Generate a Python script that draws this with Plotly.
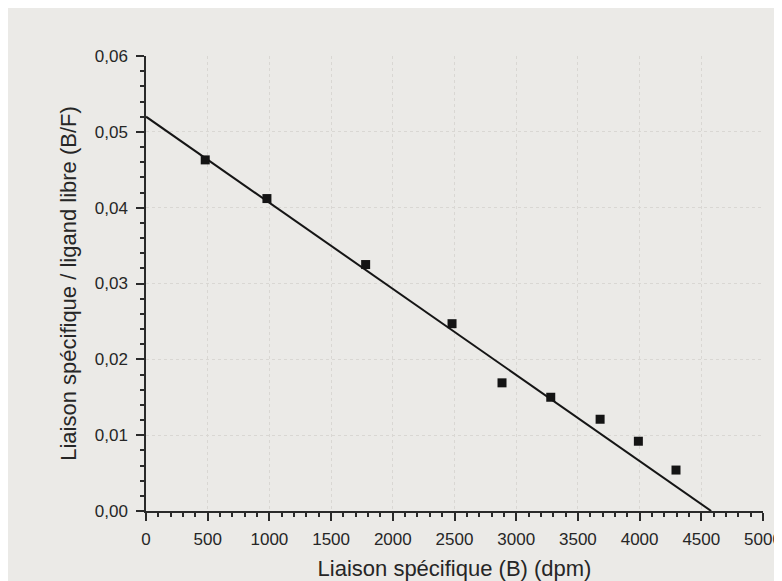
import plotly.graph_objects as go

# Data (Scatchard plot)
bound_dpm = [480, 980, 1780, 2480, 2885, 3280, 3680, 3990, 4295]
bound_over_free = [0.0463, 0.0412, 0.0325, 0.0247, 0.0169, 0.0150, 0.0121, 0.0092, 0.0054]

fit_x = [0, 4580]
fit_y = [0.0520, 0.0]

x_tick_vals = [0, 500, 1000, 1500, 2000, 2500, 3000, 3500, 4000, 4500, 5000]
y_tick_vals = [0.00, 0.01, 0.02, 0.03, 0.04, 0.05, 0.06]

FONT = "Liberation Sans, Arial, sans-serif"

fig = go.Figure()
fig.add_trace(go.Scatter(
    x=fit_x, y=fit_y, mode="lines",
    line=dict(color="#151515", width=2), showlegend=False, cliponaxis=False,
))
fig.add_trace(go.Scatter(
    x=bound_dpm, y=bound_over_free, mode="markers",
    marker=dict(symbol="square", size=9, color="#141414"), showlegend=False,
))

axis_common = dict(
    showline=True, linecolor="#2a2a2a", linewidth=1.5,
    ticks="outside", tickcolor="#2a2a2a", ticklen=8, tickwidth=1.5,
    showgrid=True, gridcolor="#d9d7d3", griddash="dot", gridwidth=1,
    zeroline=False, automargin=False,
    tickfont=dict(family=FONT, size=17, color="#262626"),
)

fig.update_xaxes(
    range=[0, 5000], tickvals=x_tick_vals, tickformat="d",
    ticklabelstandoff=4,
    minor=dict(dtick=100, ticks="outside", ticklen=4, tickcolor="#2a2a2a", showgrid=False),
    title=dict(text="Liaison spécifique (B) (dpm)",
               font=dict(family=FONT, size=22, color="#262626"),
               standoff=16),
    **axis_common,
)
fig.update_yaxes(
    range=[0, 0.06], tickvals=y_tick_vals, tickformat=".2f",
    ticklabelstandoff=5,
    minor=dict(dtick=0.002, ticks="outside", ticklen=4, tickcolor="#2a2a2a", showgrid=False),
    title=dict(text="Liaison spécifique / ligand libre (B/F)",
               font=dict(family=FONT, size=22, color="#262626"),
               standoff=12),
    **axis_common,
)

fig.update_layout(
    width=774, height=573,
    margin=dict(l=138, r=19, t=48, b=70),
    paper_bgcolor="#ebeae7", plot_bgcolor="#ebeae7",
    separators=", ",
    showlegend=False,
)

fig.write_html("out.html")
